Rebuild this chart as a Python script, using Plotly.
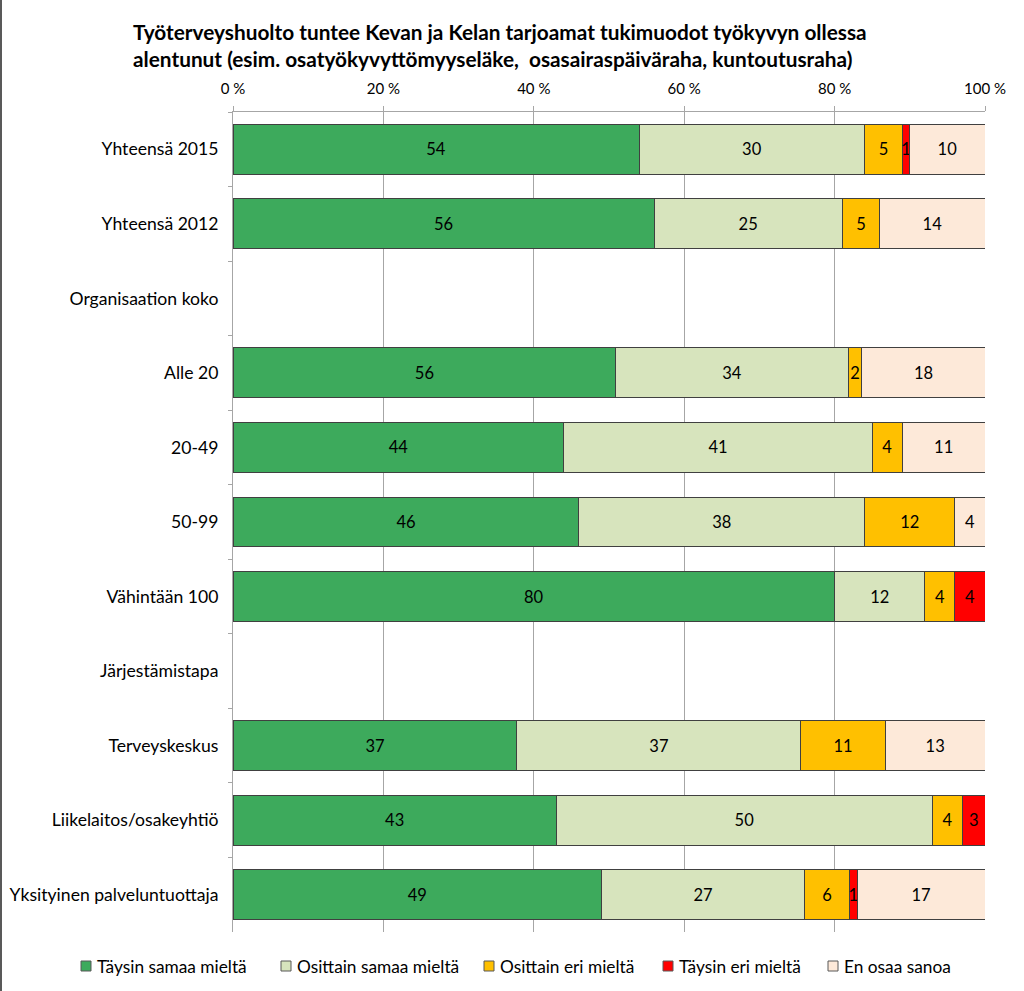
import plotly.graph_objects as go

categories = ["Yhteensä 2015", "Yhteensä 2012", "Organisaation koko", "Alle 20", "20-49",
              "50-99", "Vähintään 100", "Järjestämistapa", "Terveyskeskus",
              "Liikelaitos/osakeyhtiö", "Yksityinen palveluntuottaja"]

series_names = ["Täysin samaa mieltä", "Osittain samaa mieltä", "Osittain eri mieltä",
                "Täysin eri mieltä", "En osaa sanoa"]

taysin_samaa = [54, 56, None, 56, 44, 46, 80, None, 37, 43, 49]
osittain_samaa = [30, 25, None, 34, 41, 38, 12, None, 37, 50, 27]
osittain_eri = [5, 5, None, 2, 4, 12, 4, None, 11, 4, 6]
taysin_eri = [1, None, None, None, None, None, 4, None, None, 3, 1]
en_osaa = [10, 14, None, 18, 11, 4, None, None, 13, None, 17]

colors = ["#3DAA5C", "#D7E4BD", "#FFC000", "#FF0000", "#FDE9D9"]
values = [taysin_samaa, osittain_samaa, osittain_eri, taysin_eri, en_osaa]

FONT = "Lato"
W, H = 1024, 991
ML, MR, MT, MB = 233, 39, 112, 59
PW, PH = W - ML - MR, H - MT - MB

fig = go.Figure()
for name, vals, col in zip(series_names, values, colors):
    fig.add_trace(go.Bar(
        y=categories, x=vals, name=name, orientation="h",
        marker=dict(color=col, line=dict(color="#404040", width=1)),
        text=[("" if v is None else str(v)) for v in vals],
        textposition="inside", insidetextanchor="middle", textangle=0,
        textfont=dict(family=FONT, size=16.5, color="black"),
        width=0.67, showlegend=False,
    ))

# Legend drawn as swatches + labels (Excel-style compact legend row)
legend_left_px = [81, 281, 484, 663, 828]
legend_y_px = 966
sw = 10
def px_x(px):
    return (px - ML) / PW
def px_y(py):
    return (H - MB - py) / PH
for name, col, lx in zip(series_names, colors, legend_left_px):
    fig.add_shape(type="rect", xref="paper", yref="paper",
                  x0=px_x(lx), x1=px_x(lx + sw),
                  y0=px_y(legend_y_px + sw / 2), y1=px_y(legend_y_px - sw / 2),
                  fillcolor=col, line=dict(color="#595959", width=1))
    fig.add_annotation(text=name, xref="paper", yref="paper",
                       x=px_x(lx + sw + 4), y=px_y(legend_y_px),
                       xanchor="left", yanchor="middle", showarrow=False,
                       font=dict(family=FONT, size=17.3, color="black"))

fig.update_layout(
    barmode="stack", barnorm="percent",
    width=W, height=H,
    paper_bgcolor="white", plot_bgcolor="white",
    margin=dict(l=ML, r=MR, t=MT, b=MB, autoexpand=False),
    font=dict(family=FONT, size=16, color="black"),
    uniformtext=dict(minsize=16.5, mode="show"),
    title=dict(
        text="<b>Työterveyshuolto tuntee Kevan ja Kelan tarjoamat tukimuodot työkyvyn ollessa<br>alentunut (esim. osatyökyvyttömyyseläke,  osasairaspäiväraha, kuntoutusraha)</b>",
        x=133/W, xanchor="left", xref="container",
        y=1-40/H, yanchor="middle", yref="container",
        font=dict(family=FONT, size=20.8, color="black"),
    ),
    showlegend=False,
)
fig.update_xaxes(
    side="top", range=[0, 100], dtick=20, ticksuffix=" %",
    showgrid=True, gridcolor="#A6A6A6", gridwidth=1,
    showline=True, linecolor="#A6A6A6", linewidth=1,
    ticks="outside", ticklen=5, tickcolor="#A6A6A6",
    tickfont=dict(family=FONT, size=15, color="black"),
    ticklabelstandoff=6,
    tickangle=0, zeroline=False, fixedrange=True,
)
fig.update_yaxes(
    type="category", categoryorder="array", categoryarray=categories,
    autorange="reversed",
    showline=True, linecolor="#A6A6A6", linewidth=1,
    ticks="outside", tickson="boundaries", ticklen=4, tickcolor="#A6A6A6",
    showgrid=False, tickfont=dict(family=FONT, size=17.6, color="black"),
    ticklabelstandoff=10, fixedrange=True,
)
fig.add_shape(type="line", xref="paper", yref="paper",
              x0=-(ML - 1)/PW, x1=-(ML - 1)/PW, y0=-MB/PH, y1=(PH + MT)/PH,
              line=dict(color="#595959", width=2))

fig.write_html("out.html", config={"displayModeBar": False},
               post_script="document.body.style.margin='0';")
